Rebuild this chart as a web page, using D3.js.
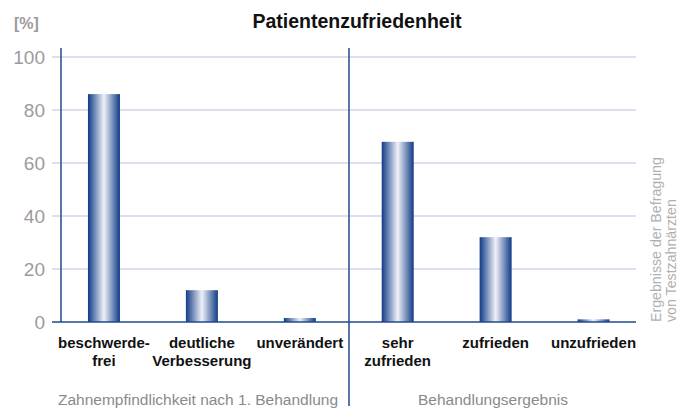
<meta charset="utf-8">
<script src="https://d3js.org/d3.v7.min.js"></script>
<style>
    body { background: #fff; margin: 0; font-family: "Liberation Sans", Arial, sans-serif; }
    svg { display: block; }
</style>

<svg width="692" height="412"></svg>

<script>
    const categories = ["beschwerde-|frei", "deutliche|Verbesserung", "unverändert", "sehr|zufrieden", "zufrieden", "unzufrieden"];
    const values = [86, 12, 1.5, 68, 32, 1];
    const groups = ["Zahnempfindlichkeit nach 1. Behandlung", "Behandlungsergebnis"];
    const yTicks = [0, 20, 40, 60, 80, 100];

    const svg = d3.select("svg");
    const axisColor = "#1f4a8c", gridColor = "#b9c0de", grey = "#9b9b9b";

    const x = d3.scalePoint().domain(categories).range([55, 642.5]).padding(0.5);
    const y = d3.scaleLinear().domain([0, 100]).range([322, 57]);
    const barW = 32;

    // gradient
    const grad = svg.append("defs").append("linearGradient").attr("id", "bar")
        .attr("x1", "0%").attr("x2", "100%");
    grad.append("stop").attr("offset", "0%").attr("stop-color", "#103b86");
    grad.append("stop").attr("offset", "50%").attr("stop-color", "#f0f1f8");
    grad.append("stop").attr("offset", "100%").attr("stop-color", "#103b86");

    // grid
    svg.append("g").selectAll("line")
        .data(yTicks.filter(d => d > 0))
        .enter().append("line")
        .attr("x1", 52).attr("x2", 636)
        .attr("y1", d => y(d)).attr("y2", d => y(d))
        .attr("stroke", gridColor).attr("stroke-width", 1.2);

    // y tick labels
    svg.append("g").selectAll("text")
        .data(yTicks)
        .enter().append("text")
        .attr("x", 45).attr("y", d => y(d) + 7)
        .attr("text-anchor", "end").attr("font-size", 19).attr("fill", grey)
        .text(d => d);

    svg.append("text").attr("x", 14).attr("y", 29)
        .attr("font-size", 16).attr("font-weight", "bold").attr("fill", grey).text("[%]");

    // bars
    svg.append("g").selectAll("rect")
        .data(values)
        .enter().append("rect")
        .attr("x", (d, i) => x(categories[i]) - barW / 2)
        .attr("width", barW)
        .attr("y", d => y(d))
        .attr("height", d => y(0) - y(d))
        .attr("fill", "url(#bar)");

    // axes
    svg.append("line").attr("x1", 61).attr("x2", 61).attr("y1", 48).attr("y2", 322)
        .attr("stroke", axisColor).attr("stroke-width", 1.5);
    svg.append("line").attr("x1", 52).attr("x2", 636).attr("y1", 322).attr("y2", 322)
        .attr("stroke", axisColor).attr("stroke-width", 1.5);
    svg.append("line").attr("x1", 349).attr("x2", 349).attr("y1", 48).attr("y2", 406)
        .attr("stroke", axisColor).attr("stroke-width", 1.5);

    // category labels
    const lab = svg.append("g").selectAll("text")
        .data(categories)
        .enter().append("text")
        .attr("text-anchor", "middle").attr("font-size", 15).attr("font-weight", "bold").attr("fill", "#111")
        .attr("transform", d => `translate(${x(d)},348)`);
    lab.selectAll("tspan")
        .data(d => d.split("|"))
        .enter().append("tspan")
        .attr("x", 0).attr("dy", (d, i) => i ? 18 : 0)
        .text(d => d);

    // group labels
    svg.append("g").selectAll("text")
        .data(groups)
        .enter().append("text")
        .attr("x", (d, i) => i ? 493 : 198)
        .attr("y", 405)
        .attr("text-anchor", "middle").attr("font-size", 15.5).attr("fill", "#8a8a8a")
        .text(d => d);

    // title
    svg.append("text").attr("x", 357).attr("y", 28)
        .attr("text-anchor", "middle").attr("font-size", 19.5).attr("font-weight", "bold").attr("fill", "#111")
        .text("Patientenzufriedenheit");

    // side note
    const note = svg.append("text")
        .attr("transform", "translate(661,322) rotate(-90)")
        .attr("font-size", 14.2).attr("fill", "#b0b0b0");
    note.append("tspan").attr("x", 0).attr("dy", 0).text("Ergebnisse der Befragung");
    note.append("tspan").attr("x", 0).attr("dy", 15).text("von Testzahnärzten");
</script>
